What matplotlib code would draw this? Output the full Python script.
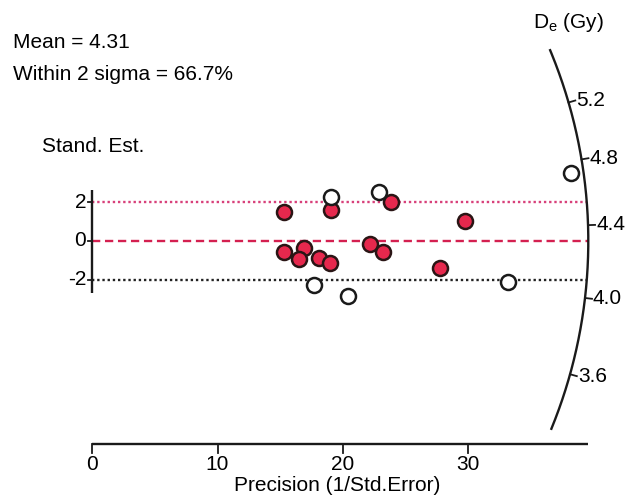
import numpy as np
import matplotlib
matplotlib.use("Agg")
import matplotlib.pyplot as plt

plt.rcParams['font.family'] = ['Liberation Sans', 'DejaVu Sans']
plt.rcParams['mathtext.fontset'] = 'custom'
plt.rcParams['mathtext.rm'] = 'Liberation Sans'
plt.rcParams['mathtext.it'] = 'Liberation Sans:italic'

# ---- data ----
mean_de = 4.31
within_pct = 66.7
# precision (1/std.error) and standardized estimate, within 2 sigma (filled)
prec_in = [15.31, 19.04, 15.31, 16.91, 16.51, 18.11, 18.99, 23.83, 29.77, 22.18, 23.19, 27.77]
z_in = [1.48, 1.60, -0.55, -0.38, -0.94, -0.86, -1.12, 1.99, 1.03, -0.17, -0.55, -1.41]
# outside 2 sigma (open)
prec_out = [19.04, 17.71, 20.40, 22.92, 33.23, 38.21]
z_out = [2.28, -2.27, -2.85, 2.54, -2.10, 3.49]
x_ticks = [0, 10, 20, 30]
z_ticks = [2, 0, -2]
de_ticks = [3.6, 4.0, 4.4, 4.8, 5.2]
de_range = [3.31, 5.64]

# ---- layout (pixel scaling) ----
W, H = 625, 500
x0px, y0px = 92.3, 241.0
sx, sy = 12.52, 19.4          # pixels per data unit
R = 496.0                      # arc radius in pixels

fig = plt.figure(figsize=(6.25, 5.0), dpi=100)
ax = fig.add_axes([0, 0, 1, 1])
ax.set_xlim(-x0px / sx, (W - x0px) / sx)
ax.set_ylim((y0px - H) / sy, y0px / sy)
ax.axis('off')

FS = 15
def px2d(px, py):
    return (px - x0px) / sx, (y0px - py) / sy

# reference lines ending at the arc
def arc_x(z):
    return np.sqrt(R**2 - (z * sy) ** 2) / sx
lw = 1.7
ax.plot([0, arc_x(2)], [2, 2], color='#d8407a', lw=lw, ls=(0, (1, 1.2)))
ax.plot([0, arc_x(0)], [0, 0], color='#d42050', lw=lw, ls=(0, (3.5, 2)))
ax.plot([0, arc_x(-2)], [-2, -2], color='#222222', lw=lw, ls=(0, (1, 1.2)))

# points
ax.plot(prec_in, z_in, 'o', ms=10.8, mfc='#e6284d', mec='#2a1515', mew=1.8, zorder=5)
ax.plot(prec_out, z_out, 'o', ms=10.8, mfc='white', mec='#1a1a1a', mew=1.8, zorder=5)

# left axis
ax.plot([0, 0], [(y0px - 190) / sy, (y0px - 293) / sy], color='#1a1a1a', lw=1.7, solid_capstyle='butt')
for t in z_ticks:
    ax.plot([-4.5 / sx, 0], [t, t], color='#1a1a1a', lw=1.3)
    ax.text(-6 / sx, t, f"{t}", ha='right', va='center', fontsize=FS)

# bottom axis
yb = (y0px - 443.5) / sy
ax.plot([0, (588 - x0px) / sx], [yb, yb], color='#1a1a1a', lw=1.7, solid_capstyle='butt')
for t in x_ticks:
    ax.plot([t, t], [yb, yb - 9 / sy], color='#1a1a1a', lw=1.3)
    ax.text(t, yb - 12 / sy, f"{t}", ha='center', va='top', fontsize=FS)
xl, yl = px2d(337, 485)
ax.text(xl, yl, "Precision (1/Std.Error)", ha='center', va='center', fontsize=FS)

# arc
def phi_of(d):
    s = np.log(d / mean_de)
    return np.arctan(sy * s / sx)
phis = np.linspace(phi_of(de_range[0]), phi_of(de_range[1]), 300)
ax.plot(R * np.cos(phis) / sx, R * np.sin(phis) / sy, color='#1a1a1a', lw=1.7)
for d in de_ticks:
    p = phi_of(d)
    xa, ya = R * np.cos(p), R * np.sin(p)
    xb, yb2 = (R + 7) * np.cos(p), (R + 7) * np.sin(p)
    ax.plot([xa / sx, xb / sx], [ya / sy, yb2 / sy], color='#1a1a1a', lw=1.3)
    ax.text((xb + 1) / sx, yb2 / sy, f"{d:.1f}", ha='left', va='center', fontsize=FS)

# texts
tx, ty = px2d(13, 42)
ax.text(tx, ty, f"Mean = {mean_de}", ha='left', va='center', fontsize=FS)
tx, ty = px2d(13, 75)
ax.text(tx, ty, f"Within 2 sigma = {within_pct}%", ha='left', va='center', fontsize=FS)
tx, ty = px2d(42, 147)
ax.text(tx, ty, "Stand. Est.", ha='left', va='center', fontsize=FS)
tx, ty = px2d(533, 22)
ax.text(tx, ty, r"D$_\mathregular{e}$ (Gy)", ha='left', va='center', fontsize=FS)

fig.savefig("out.png", dpi=100)
